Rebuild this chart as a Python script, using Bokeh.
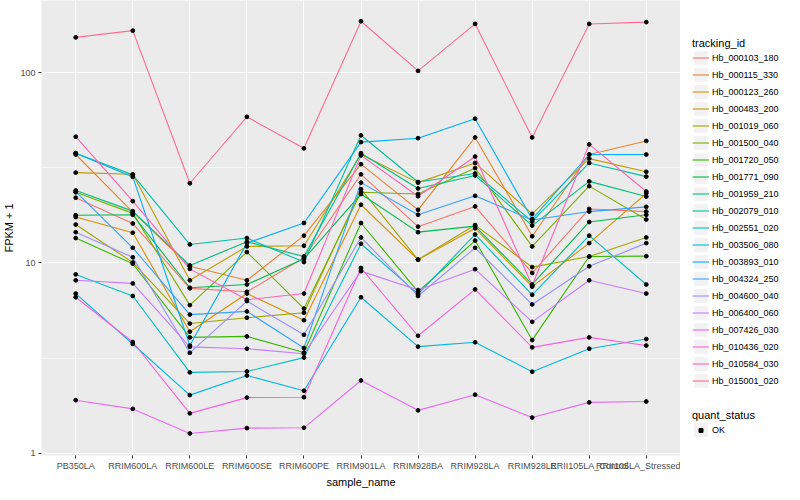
from bokeh.plotting import figure
from bokeh.layouts import row
from bokeh.models import (ColumnDataSource, Range1d, FixedTicker, Legend, LegendItem,
                          BasicTickFormatter)
from bokeh.embed import file_html
from bokeh.resources import INLINE

samples = ["PB350LA", "RRIM600LA", "RRIM600LE", "RRIM600SE", "RRIM600PE", "RRIM901LA",
           "RRIM928BA", "RRIM928LA", "RRIM928LE", "RRII105LA_Control", "RRII105LA_Stressed"]

tracking_ids = ["Hb_000103_180", "Hb_000115_330", "Hb_000123_260", "Hb_000483_200",
                "Hb_001019_060", "Hb_001500_040", "Hb_001720_050", "Hb_001771_090",
                "Hb_001959_210", "Hb_002079_010", "Hb_002551_020", "Hb_003506_080",
                "Hb_003893_010", "Hb_004324_250", "Hb_004600_040", "Hb_006400_060",
                "Hb_007426_030", "Hb_010436_020", "Hb_010584_030", "Hb_015001_020"]

colors = ["#F8766D", "#EA8331", "#D89000", "#C09B00", "#A3A500", "#7CAE00", "#39B600",
          "#00BB4E", "#00BF7D", "#00C1A3", "#00BFC4", "#00BAE0", "#00B0F6", "#35A2FF",
          "#9590FF", "#C77CFF", "#E76BF3", "#FA62DB", "#FF62BC", "#FF6C91"]

quant_status = ["OK"]

# FPKM + 1 per sample (same order as samples)
Hb_000103_180 = [22.0, 16.1, 7.35, 7.05, 10.65, 29.2, 15.5, 19.8, 8.85, 19.2, 18.6]
Hb_000115_330 = [37.1, 18.5, 9.6, 8.1, 13.9, 33.0, 19.0, 45.6, 13.8, 37.1, 43.7]
Hb_000123_260 = [17.4, 14.4, 4.35, 6.9, 5.0, 20.2, 10.4, 15.2, 7.5, 12.7, 23.2]
Hb_000483_200 = [29.8, 29.2, 8.1, 12.2, 12.3, 37.1, 26.4, 33.5, 18.1, 35.3, 30.1]
Hb_001019_060 = [15.9, 10.05, 4.8, 5.15, 5.47, 24.4, 10.4, 15.8, 9.5, 10.8, 13.6]
Hb_001500_040 = [23.5, 18.2, 6.0, 11.4, 5.75, 23.5, 23.0, 31.5, 12.2, 25.3, 16.9]
Hb_001720_050 = [13.5, 9.9, 4.06, 4.11, 3.38, 16.2, 7.05, 13.1, 3.93, 10.8, 10.85]
Hb_001771_090 = [17.8, 17.9, 7.4, 7.7, 10.5, 23.0, 14.5, 15.6, 7.7, 16.4, 17.9]
Hb_001959_210 = [24.0, 18.7, 9.7, 12.9, 10.8, 37.7, 24.6, 28.8, 15.7, 26.8, 22.3]
Hb_002079_010 = [37.7, 29.0, 12.5, 13.5, 10.1, 46.8, 26.6, 29.5, 16.5, 33.5, 28.4]
Hb_002551_020 = [8.7, 6.7, 2.66, 2.69, 3.18, 12.6, 6.85, 14.1, 6.8, 13.9, 7.7]
Hb_003506_080 = [6.9, 3.75, 2.02, 2.56, 2.13, 6.6, 3.63, 3.83, 2.68, 3.54, 3.98]
Hb_003893_010 = [37.7, 28.3, 3.68, 12.7, 16.2, 43.1, 45.2, 57.2, 17.0, 37.1, 37.1]
Hb_004324_250 = [23.7, 12.0, 5.35, 5.56, 3.57, 26.4, 17.9, 22.5, 16.8, 18.6, 19.7]
Hb_004600_040 = [14.5, 10.7, 3.37, 6.3, 4.19, 13.6, 6.7, 12.0, 6.05, 9.6, 12.7]
Hb_006400_060 = [8.1, 7.8, 3.62, 3.54, 3.33, 9.05, 7.2, 9.27, 4.9, 8.1, 6.9]
Hb_007426_030 = [1.9, 1.71, 1.27, 1.355, 1.36, 2.41, 1.68, 2.03, 1.54, 1.85, 1.87]
Hb_010436_020 = [6.6, 3.84, 1.62, 1.96, 1.97, 9.4, 4.14, 7.26, 3.6, 4.06, 3.68]
Hb_010584_030 = [46.0, 21.1, 9.3, 6.4, 6.9, 36.7, 22.4, 36.2, 7.6, 41.9, 23.7]
Hb_015001_020 = [153.0, 166.0, 26.2, 58.5, 40.0, 186.0, 102.0, 180.0, 45.6, 180.0, 184.0]

series = [Hb_000103_180, Hb_000115_330, Hb_000123_260, Hb_000483_200, Hb_001019_060,
          Hb_001500_040, Hb_001720_050, Hb_001771_090, Hb_001959_210, Hb_002079_010,
          Hb_002551_020, Hb_003506_080, Hb_003893_010, Hb_004324_250, Hb_004600_040,
          Hb_006400_060, Hb_007426_030, Hb_010436_020, Hb_010584_030, Hb_015001_020]

y_ticks = [1, 10, 100]
y_minor = [3.1623, 31.623]

FONT = "Liberation Sans"
xpos = list(range(1, len(samples) + 1))

p = figure(frame_width=639, frame_height=455, output_backend="svg", toolbar_location=None,
           y_axis_type="log", x_range=Range1d(0.4, 11.6), y_range=Range1d(0.973, 239),
           min_border_left=37, min_border_right=0, min_border_top=0, min_border_bottom=29)
p.background_fill_color = "#EBEBEB"
p.border_fill_color = "white"
p.outline_line_color = None

# axes
p.xaxis.ticker = FixedTicker(ticks=xpos)
p.xaxis.major_label_overrides = {i: s for i, s in zip(xpos, samples)}
p.yaxis.ticker = FixedTicker(ticks=y_ticks, minor_ticks=y_minor)
p.yaxis.formatter = BasicTickFormatter()
for ax in (p.xaxis, p.yaxis):
    ax.axis_line_color = None
    ax.major_tick_line_color = "#333333"
    ax.major_tick_out = 3
    ax.major_tick_in = 0
    ax.minor_tick_line_color = None
    ax.major_label_text_font = FONT
    ax.major_label_text_font_size = "9px"
    ax.major_label_text_color = "#4D4D4D"
    ax.major_label_standoff = 2
    ax.axis_label_text_font = FONT
    ax.axis_label_text_font_size = "11px"
    ax.axis_label_text_font_style = "normal"
    ax.axis_label_text_color = "black"
    ax.axis_label_standoff = 2
p.xaxis.axis_label = "sample_name"
p.yaxis.axis_label = "FPKM + 1"

p.xgrid.grid_line_color = "white"
p.xgrid.grid_line_width = 1.1
p.ygrid.grid_line_color = "white"
p.ygrid.grid_line_width = 1.1
p.ygrid.minor_grid_line_color = "white"
p.ygrid.minor_grid_line_width = 0.55

for col, vals in zip(colors, series):
    src = ColumnDataSource(dict(x=xpos, y=vals))
    p.line("x", "y", source=src, line_color=col, line_width=1.1)

# points
px, py = [], []
for vals in series:
    px.extend(xpos)
    py.extend(vals)
p.scatter(px, py, marker="circle", size=3.8, color="black")

# ---- legend panel (separate figure to the right) ----
lf = figure(width=108, height=484, output_backend="svg", toolbar_location=None,
            x_range=Range1d(0, 1), y_range=Range1d(0, 1),
            min_border_left=0, min_border_right=0, min_border_top=0, min_border_bottom=0)
lf.axis.visible = False
lf.grid.visible = False
lf.outline_line_color = None
lf.background_fill_color = "white"
lf.border_fill_color = "white"

# legend-key renderers hold one point placed outside this panel's ranges
off = dict(x=[-10.0], y=[-10.0])
key_bg = lf.rect(x="x", y="y", width=1, height=1, source=ColumnDataSource(off),
                 fill_color="#F2F2F2", line_color=None)
items = []
for tid, col in zip(tracking_ids, colors):
    r = lf.line("x", "y", source=ColumnDataSource(off), line_color=col, line_width=1.1)
    items.append(LegendItem(label=tid, renderers=[key_bg, r]))

pt_key = lf.scatter("x", "y", source=ColumnDataSource(off), marker="square",
                    size=4, color="black")


def style_legend(lg, gh=17, lh=17):
    lg.title_text_font = FONT
    lg.title_text_font_size = "11px"
    lg.title_text_font_style = "normal"
    lg.title_text_color = "black"
    lg.title_standoff = 0
    lg.label_text_font = FONT
    lg.label_text_font_size = "9px"
    lg.label_text_color = "black"
    lg.label_standoff = 3
    lg.label_height = lh
    lg.glyph_width = 17
    lg.glyph_height = gh
    lg.spacing = 0
    lg.padding = 0
    lg.margin = 0
    lg.border_line_color = None
    lg.background_fill_alpha = 0


lg1 = Legend(items=items, title="tracking_id", location=(12, 60))
style_legend(lg1)
lf.add_layout(lg1)

# quant_status: grey key + label, then the small square marker on top of the key
lg2 = Legend(items=[LegendItem(label=quant_status[0], renderers=[key_bg])],
             title="quant_status", location=(12, 11))
style_legend(lg2)
lf.add_layout(lg2)

lg3 = Legend(items=[LegendItem(label=" ", renderers=[pt_key])], location=(12, 14))
style_legend(lg3, gh=10, lh=10)
lf.add_layout(lg3)

layout = row(p, lf)
open("out.html", "w").write(file_html(layout, INLINE))
